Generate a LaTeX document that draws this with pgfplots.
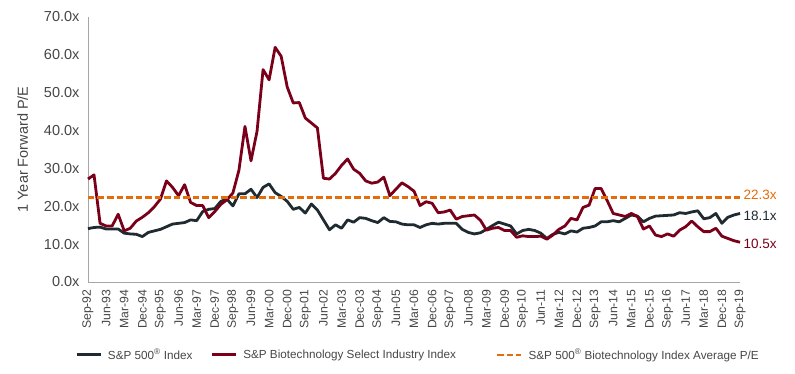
\documentclass[border=0pt]{standalone}
\usepackage{pgfplots}
\usepackage{pgfplotstable}
\pgfplotsset{compat=1.18}
\usepackage{fontspec}
\setmainfont{Liberation Sans}
\definecolor{spblack}{HTML}{1F2B30}
\definecolor{bioRed}{HTML}{7A0019}
\definecolor{avgOrange}{HTML}{E46C0A}
\definecolor{tickgray}{HTML}{464646}
\definecolor{axisgray}{HTML}{A6A6A6}
\pgfplotstableread{
i sp bio
0 14.1 27.2
1 14.4 28.3
2 14.5 15.5
3 14.0 14.8
4 14.0 14.8
5 14.0 17.9
6 12.9 13.5
7 12.7 14.2
8 12.6 16.1
9 12.0 17.1
10 13.1 18.3
11 13.5 19.9
12 13.9 21.9
13 14.6 26.7
14 15.3 25.0
15 15.5 22.8
16 15.7 25.7
17 16.4 21.0
18 16.2 20.2
19 18.6 20.2
20 19.2 17.0
21 19.4 18.6
22 21.3 20.5
23 21.9 21.7
24 20.1 23.5
25 23.3 29.5
26 23.3 41.1
27 24.5 32.0
28 22.3 39.8
29 25.0 56.1
30 25.9 53.4
31 23.6 62.0
32 22.6 59.6
33 21.3 51.5
34 19.2 47.3
35 19.7 47.4
36 18.2 43.3
37 20.6 42.0
38 19.0 40.7
39 16.4 27.4
40 13.8 27.2
41 15.1 28.7
42 14.2 30.8
43 16.4 32.5
44 15.8 29.8
45 17.0 28.7
46 16.8 26.7
47 16.2 26.1
48 15.7 26.4
49 17.0 27.7
50 16.0 22.8
51 15.9 24.5
52 15.3 26.2
53 15.1 25.2
54 15.1 24.0
55 14.4 20.2
56 15.1 21.2
57 15.5 20.8
58 15.3 18.3
59 15.5 18.5
60 15.5 19.0
61 15.5 16.6
62 13.9 17.3
63 13.1 17.5
64 12.7 17.7
65 13.0 16.3
66 13.9 13.7
67 14.9 14.2
68 15.8 14.4
69 15.3 13.6
70 14.8 13.6
71 12.7 11.8
72 13.6 12.2
73 13.9 12.0
74 13.6 12.0
75 12.9 12.1
76 11.5 11.3
77 12.6 12.4
78 13.1 13.9
79 12.7 14.8
80 13.5 16.8
81 13.2 16.4
82 14.2 19.7
83 14.4 20.3
84 14.8 24.7
85 15.9 24.7
86 15.9 21.5
87 16.2 18.1
88 15.9 17.7
89 16.8 17.3
90 17.7 18.1
91 17.4 17.3
92 15.9 14.0
93 16.8 14.8
94 17.4 12.4
95 17.5 12.0
96 17.6 12.7
97 17.7 12.1
98 18.3 13.7
99 18.1 14.6
100 18.5 16.1
101 18.8 14.6
102 16.7 13.3
103 17.0 13.3
104 18.1 14.2
105 15.5 12.1
106 17.1 11.5
107 17.7 10.9
108 18.1 10.5
}\pedata
\begin{document}
\begin{tikzpicture}
\path[use as bounding box] (0,0) rectangle (795pt,374pt);
\begin{axis}[
  at={(88pt,92pt)}, anchor=south west,
  scale only axis, width=652pt, height=265pt,
  xmin=0, xmax=108, ymin=0, ymax=70,
  clip=false,
  axis x line*=bottom, axis y line*=left,
  axis line style={axisgray, line width=0.8pt, -},
  major tick length=0pt,
  ytick={0,10,...,70},
  yticklabel={\pgfmathprintnumber[fixed,fixed zerofill,precision=1]{\tick}x},
  /pgf/number format/assume math mode=true,
  yticklabel style={font=\fontsize{14.5}{16}\selectfont, text=tickgray, xshift=-5pt},
  xtick={0,3,...,108},
  xticklabels={Sep-92,Jun-93,Mar-94,Dec-94,Sep-95,Jun-96,Mar-97,Dec-97,Sep-98,Jun-99,Mar-00,Dec-00,Sep-01,Jun-02,Mar-03,Dec-03,Sep-04,Jun-05,Mar-06,Dec-06,Sep-07,Jun-08,Mar-09,Dec-09,Sep-10,Jun-11,Mar-12,Dec-12,Sep-13,Jun-14,Mar-15,Dec-15,Sep-16,Jun-17,Mar-18,Dec-18,Sep-19},
  xticklabel style={font=\fontsize{12.2}{14}\selectfont, text=tickgray, rotate=90, anchor=east, xshift=-4pt},
  ylabel={1 Year Forward P/E},
  ylabel style={font=\fontsize{14.5}{16}\selectfont, text=tickgray, at={(axis description cs:-0.1,0.5)}, anchor=center},
  legend columns=3,
  legend cell align=left,
  legend image code/.code={\draw[#1] (0pt,0pt) -- (24pt,0pt);},
  legend style={draw=none, fill=none, inner sep=0pt, at={(axis description cs:-0.02,-0.275)}, anchor=west,
    font=\fontsize{11.7}{14}\selectfont, text=tickgray,
    /tikz/every odd column/.append style={column sep=4pt},
    /tikz/every even column/.append style={column sep=16pt}},
]
\addplot[spblack, line width=2.8pt, line join=round] table[x=i, y=sp] {\pedata};
\addlegendentry{S\&P 500\textsuperscript{®} Index}
\addplot[bioRed, line width=2.8pt, line join=round] table[x=i, y=bio] {\pedata};
\addlegendentry{S\&P Biotechnology Select Industry Index\hspace{22pt}\mbox{}}
\addplot[avgOrange, line width=2.6pt, dash pattern=on 6.5pt off 3pt] coordinates {(0,22.3) (108,22.3)};
\addlegendentry{S\&P 500\textsuperscript{®} Biotechnology Index Average P/E}
\node[anchor=west, text=avgOrange, font=\fontsize{13.5}{15}\selectfont] at (axis cs:108,22.9) {22.3x};
\node[anchor=west, text=spblack, font=\fontsize{13.5}{15}\selectfont] at (axis cs:108,17.4) {18.1x};
\node[anchor=west, text=bioRed, font=\fontsize{13.5}{15}\selectfont] at (axis cs:108,10.0) {10.5x};
\end{axis}
\end{tikzpicture}
\end{document}
